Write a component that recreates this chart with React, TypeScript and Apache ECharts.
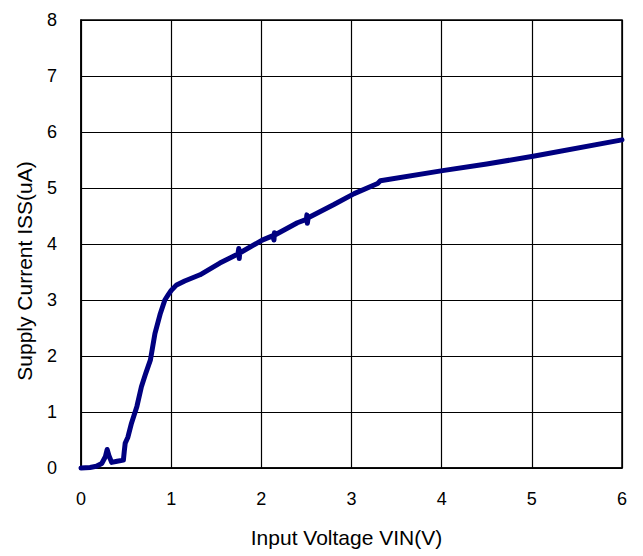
import React, { useEffect, useRef } from "react";
import * as echarts from "echarts";

const vin: number[] = [
  0, 0.1, 0.17, 0.23, 0.27, 0.29, 0.31, 0.34, 0.4, 0.47, 0.48, 0.49, 0.52, 0.56, 0.62, 0.67,
  0.72, 0.77, 0.82, 0.88, 0.93, 0.97, 1.0, 1.06, 1.15, 1.32, 1.54, 1.74, 1.75, 1.755, 1.76,
  2.01, 2.13, 2.14, 2.145, 2.15, 2.4, 2.5, 2.505, 2.51, 2.52, 2.8, 3.03, 3.29, 3.32, 4.01,
  4.5, 5.03, 6.0,
];
const iss: number[] = [
  0, 0.01, 0.03, 0.08, 0.2, 0.33, 0.22, 0.1, 0.12, 0.14, 0.3, 0.44, 0.55, 0.8, 1.1, 1.45,
  1.7, 1.93, 2.4, 2.76, 3.0, 3.1, 3.17, 3.27, 3.34, 3.45, 3.66, 3.82, 3.92, 3.74, 3.84,
  4.07, 4.15, 4.07, 4.2, 4.16, 4.38, 4.44, 4.52, 4.37, 4.47, 4.7, 4.9, 5.08, 5.13, 5.31,
  5.43, 5.57, 5.86,
];
const xTicks: number[] = [0, 1, 2, 3, 4, 5, 6];
const yTicks: number[] = [0, 1, 2, 3, 4, 5, 6, 7, 8];

export default function App() {
  const ref = useRef<HTMLDivElement>(null);
  useEffect(() => {
    if (!ref.current) return;
    const chart = echarts.init(ref.current, null, { renderer: "svg" });
    const font = "'Liberation Sans', Arial, sans-serif";
    chart.setOption({
      animation: false,
      backgroundColor: "#ffffff",
      grid: { left: 81, top: 20, right: 21, bottom: 88, show: true, borderColor: "#000", borderWidth: 1.5 },
      xAxis: {
        type: "value",
        min: xTicks[0],
        max: xTicks[xTicks.length - 1],
        interval: 1,
        name: "Input Voltage VIN(V)",
        nameLocation: "middle",
        nameGap: 59,
        nameTextStyle: { fontFamily: font, fontSize: 21, color: "#000", padding: [0, 10, 0, 0] },
        axisLine: { lineStyle: { color: "#000", width: 1.5 } },
        axisTick: { show: false },
        axisLabel: { fontFamily: font, fontSize: 18, color: "#000", margin: 22 },
        splitLine: { show: true, lineStyle: { color: "#000", width: 1.2 } },
      },
      yAxis: {
        type: "value",
        min: yTicks[0],
        max: yTicks[yTicks.length - 1],
        interval: 1,
        name: "Supply Current ISS(uA)",
        nameLocation: "middle",
        nameGap: 46,
        nameTextStyle: { fontFamily: font, fontSize: 21, color: "#000", padding: [0, 54, 0, 0] },
        axisLine: { show: true, lineStyle: { color: "#000", width: 1.5 } },
        axisTick: { show: false },
        axisLabel: { fontFamily: font, fontSize: 18, color: "#000", margin: 24 },
        splitLine: { show: true, lineStyle: { color: "#000", width: 1.2 } },
      },
      series: [
        {
          type: "line",
          data: vin.map((v, i) => [v, iss[i]]),
          showSymbol: false,
          symbol: "none",
          lineStyle: { color: "#000080", width: 5, cap: "round", join: "round" },
          clip: false,
        },
      ],
    });
    return () => chart.dispose();
  }, []);
  return <div ref={ref} style={{ width: 643, height: 556, position: "absolute", left: 0, top: 0 }} />;
}
